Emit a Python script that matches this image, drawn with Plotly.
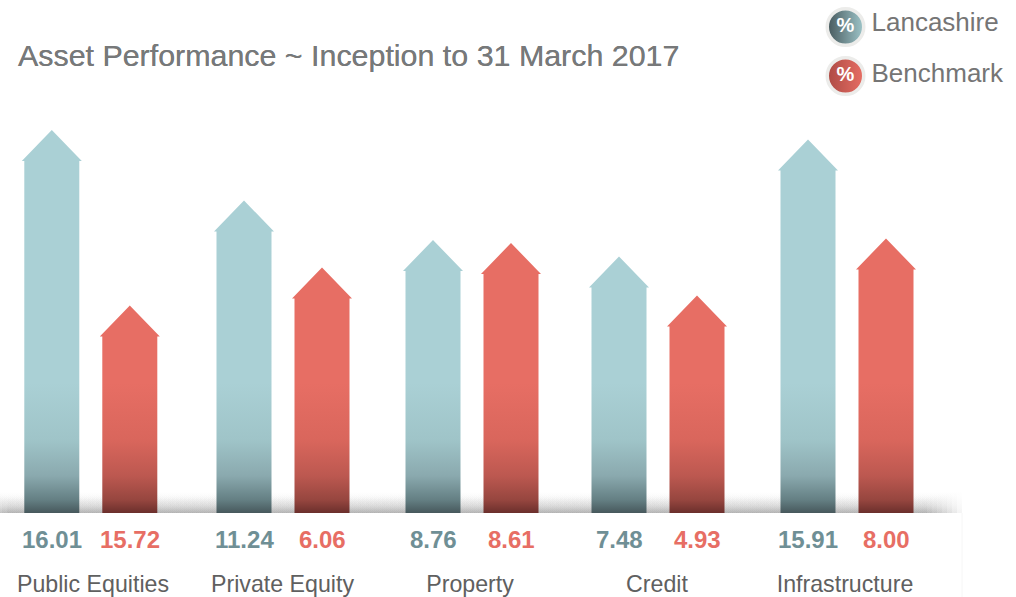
import plotly.graph_objects as go

# ---- data ----
categories = ["Public Equities", "Private Equity", "Property", "Credit", "Infrastructure"]
lancashire_values = ["16.01", "11.24", "8.76", "7.48", "15.91"]
benchmark_values = ["15.72", "6.06", "8.61", "4.93", "8.00"]
# drawn shaft heights (the arrows are not to scale with the printed numbers)
lancashire_heights = [352, 281.5, 242, 225.5, 342.5]
benchmark_heights = [176.5, 214.5, 239, 186.5, 243.5]
series_names = ["Lancashire", "Benchmark"]

# ---- layout constants ----
W, H = 1016, 597
BASE_PX = 513
group_centers = [90.8, 283, 472, 658, 847]
label_centers = [93, 282.5, 470, 657, 845]
OFFSET = 39
SHAFT = 27.5
HEAD = 30
HEAD_H = 31
FONT = "Liberation Sans"

TEAL_SCALE = [[0, "#47585c"], [0.1, "#647f83"], [0.285, "#8aa9ae"], [0.56, "#9fc4c8"], [1, "#aad0d5"]]
RED_SCALE = [[0, "#6b2f2c"], [0.1, "#96463f"], [0.285, "#bc5850"], [0.56, "#d9665c"], [1, "#e76e64"]]


def arrow(center, height, scale):
    l, r = center - SHAFT, center + SHAFT
    return go.Scatter(
        x=[l, l, center - HEAD, center, center + HEAD, r, r, l],
        y=[0, height, height, height + HEAD_H, height, height, 0, 0],
        mode="lines", line=dict(width=0), fill="toself",
        fillgradient=dict(type="vertical", colorscale=scale, start=0, stop=130),
        hoverinfo="skip", showlegend=False,
    )


fig = go.Figure()

# soft shadow above the base line, layered so that its ends fade
shadow_layers = [(-24, 962, 22), (-20, 957, 21), (-16, 952, 20), (-11, 947, 19),
                 (-7, 942, 18), (-3, 937, 17), (2, 932, 16), (7, 927, 15)]
for left, right, top in shadow_layers:
    fig.add_trace(go.Scatter(
        x=[left, right, right, left, left], y=[0, 0, top, top, 0],
        mode="lines", line=dict(width=0), fill="toself",
        fillgradient=dict(type="vertical",
                          colorscale=[[0, "rgba(50,50,50,0.055)"], [0.35, "rgba(70,70,70,0.03)"],
                                      [1, "rgba(120,120,120,0)"]],
                          start=0, stop=top),
        hoverinfo="skip", showlegend=False,
    ))

for c, lh, bh in zip(group_centers, lancashire_heights, benchmark_heights):
    fig.add_trace(arrow(c - OFFSET, lh, TEAL_SCALE))
    fig.add_trace(arrow(c + OFFSET, bh, RED_SCALE))

annotations = []
# printed values under each arrow
for vals, off, col in [(lancashire_values, -OFFSET, "#6f8f95"), (benchmark_values, OFFSET, "#e76e64")]:
    for c, v in zip(group_centers, vals):
        annotations.append(dict(
            x=c + off, xref="x", y=-26 / BASE_PX, yref="paper", text=v, showarrow=False,
            xanchor="center", yanchor="middle",
            font=dict(family=FONT, size=24, color=col, weight="bold"),
        ))

# legend
icon_y = [BASE_PX - 27, BASE_PX - 76]
label_y = [BASE_PX - 24, BASE_PX - 75]
grad = [("#9fc6ca", "#46585c"), ("#e76e64", "#ad4a44")]
for i, name in enumerate(series_names):
    fig.add_trace(go.Scatter(
        x=[845.5], y=[icon_y[i]], mode="markers+text", text=["%"],
        textposition="middle center",
        textfont=dict(family=FONT, size=20, color="white", weight="bold"),
        marker=dict(size=36.5, color=grad[i][1], symbol="circle",
                    gradient=dict(type="horizontal", color=grad[i][0]),
                    line=dict(color="#ececea", width=3.5)),
        hoverinfo="skip", showlegend=False,
    ))
    fig.add_trace(go.Scatter(
        x=[871.5], y=[label_y[i]], mode="text", text=[name], textposition="middle right",
        textfont=dict(family=FONT, size=26, color="#757575"),
        hoverinfo="skip", showlegend=False,
    ))

fig.update_layout(
    width=W, height=H, autosize=False,
    margin=dict(l=0, r=0, t=0, b=H - BASE_PX, autoexpand=False),
    paper_bgcolor="white", plot_bgcolor="rgba(0,0,0,0)",
    title=dict(text="Asset Performance ~ Inception to 31 March 2017",
               x=18 / W, xanchor="left", xref="paper", y=1 - 55 / H, yref="container",
               yanchor="middle",
               font=dict(family=FONT, size=30.4, color="#77797a", shadow="0 0 0.6px #77797a")),
    xaxis=dict(range=[0, W], tickmode="array", tickvals=label_centers, ticktext=categories,
               showgrid=False, zeroline=False, showline=False, ticks="outside",
               ticklen=50, tickcolor="rgba(0,0,0,0)", tickwidth=0,
               tickfont=dict(family=FONT, size=23.2, color="#5f6060")),
    yaxis=dict(range=[0, BASE_PX], visible=False),
    annotations=annotations,
    shapes=[dict(type="line", xref="x", yref="paper", x0=962, x1=962, y0=0, y1=-(H - BASE_PX) / BASE_PX,
                 line=dict(color="#f6f6f6", width=1))],
)

fig.write_html("out.html", config={"displayModeBar": False},
               post_script="document.body.style.margin='0';document.documentElement.style.overflow='hidden';")
